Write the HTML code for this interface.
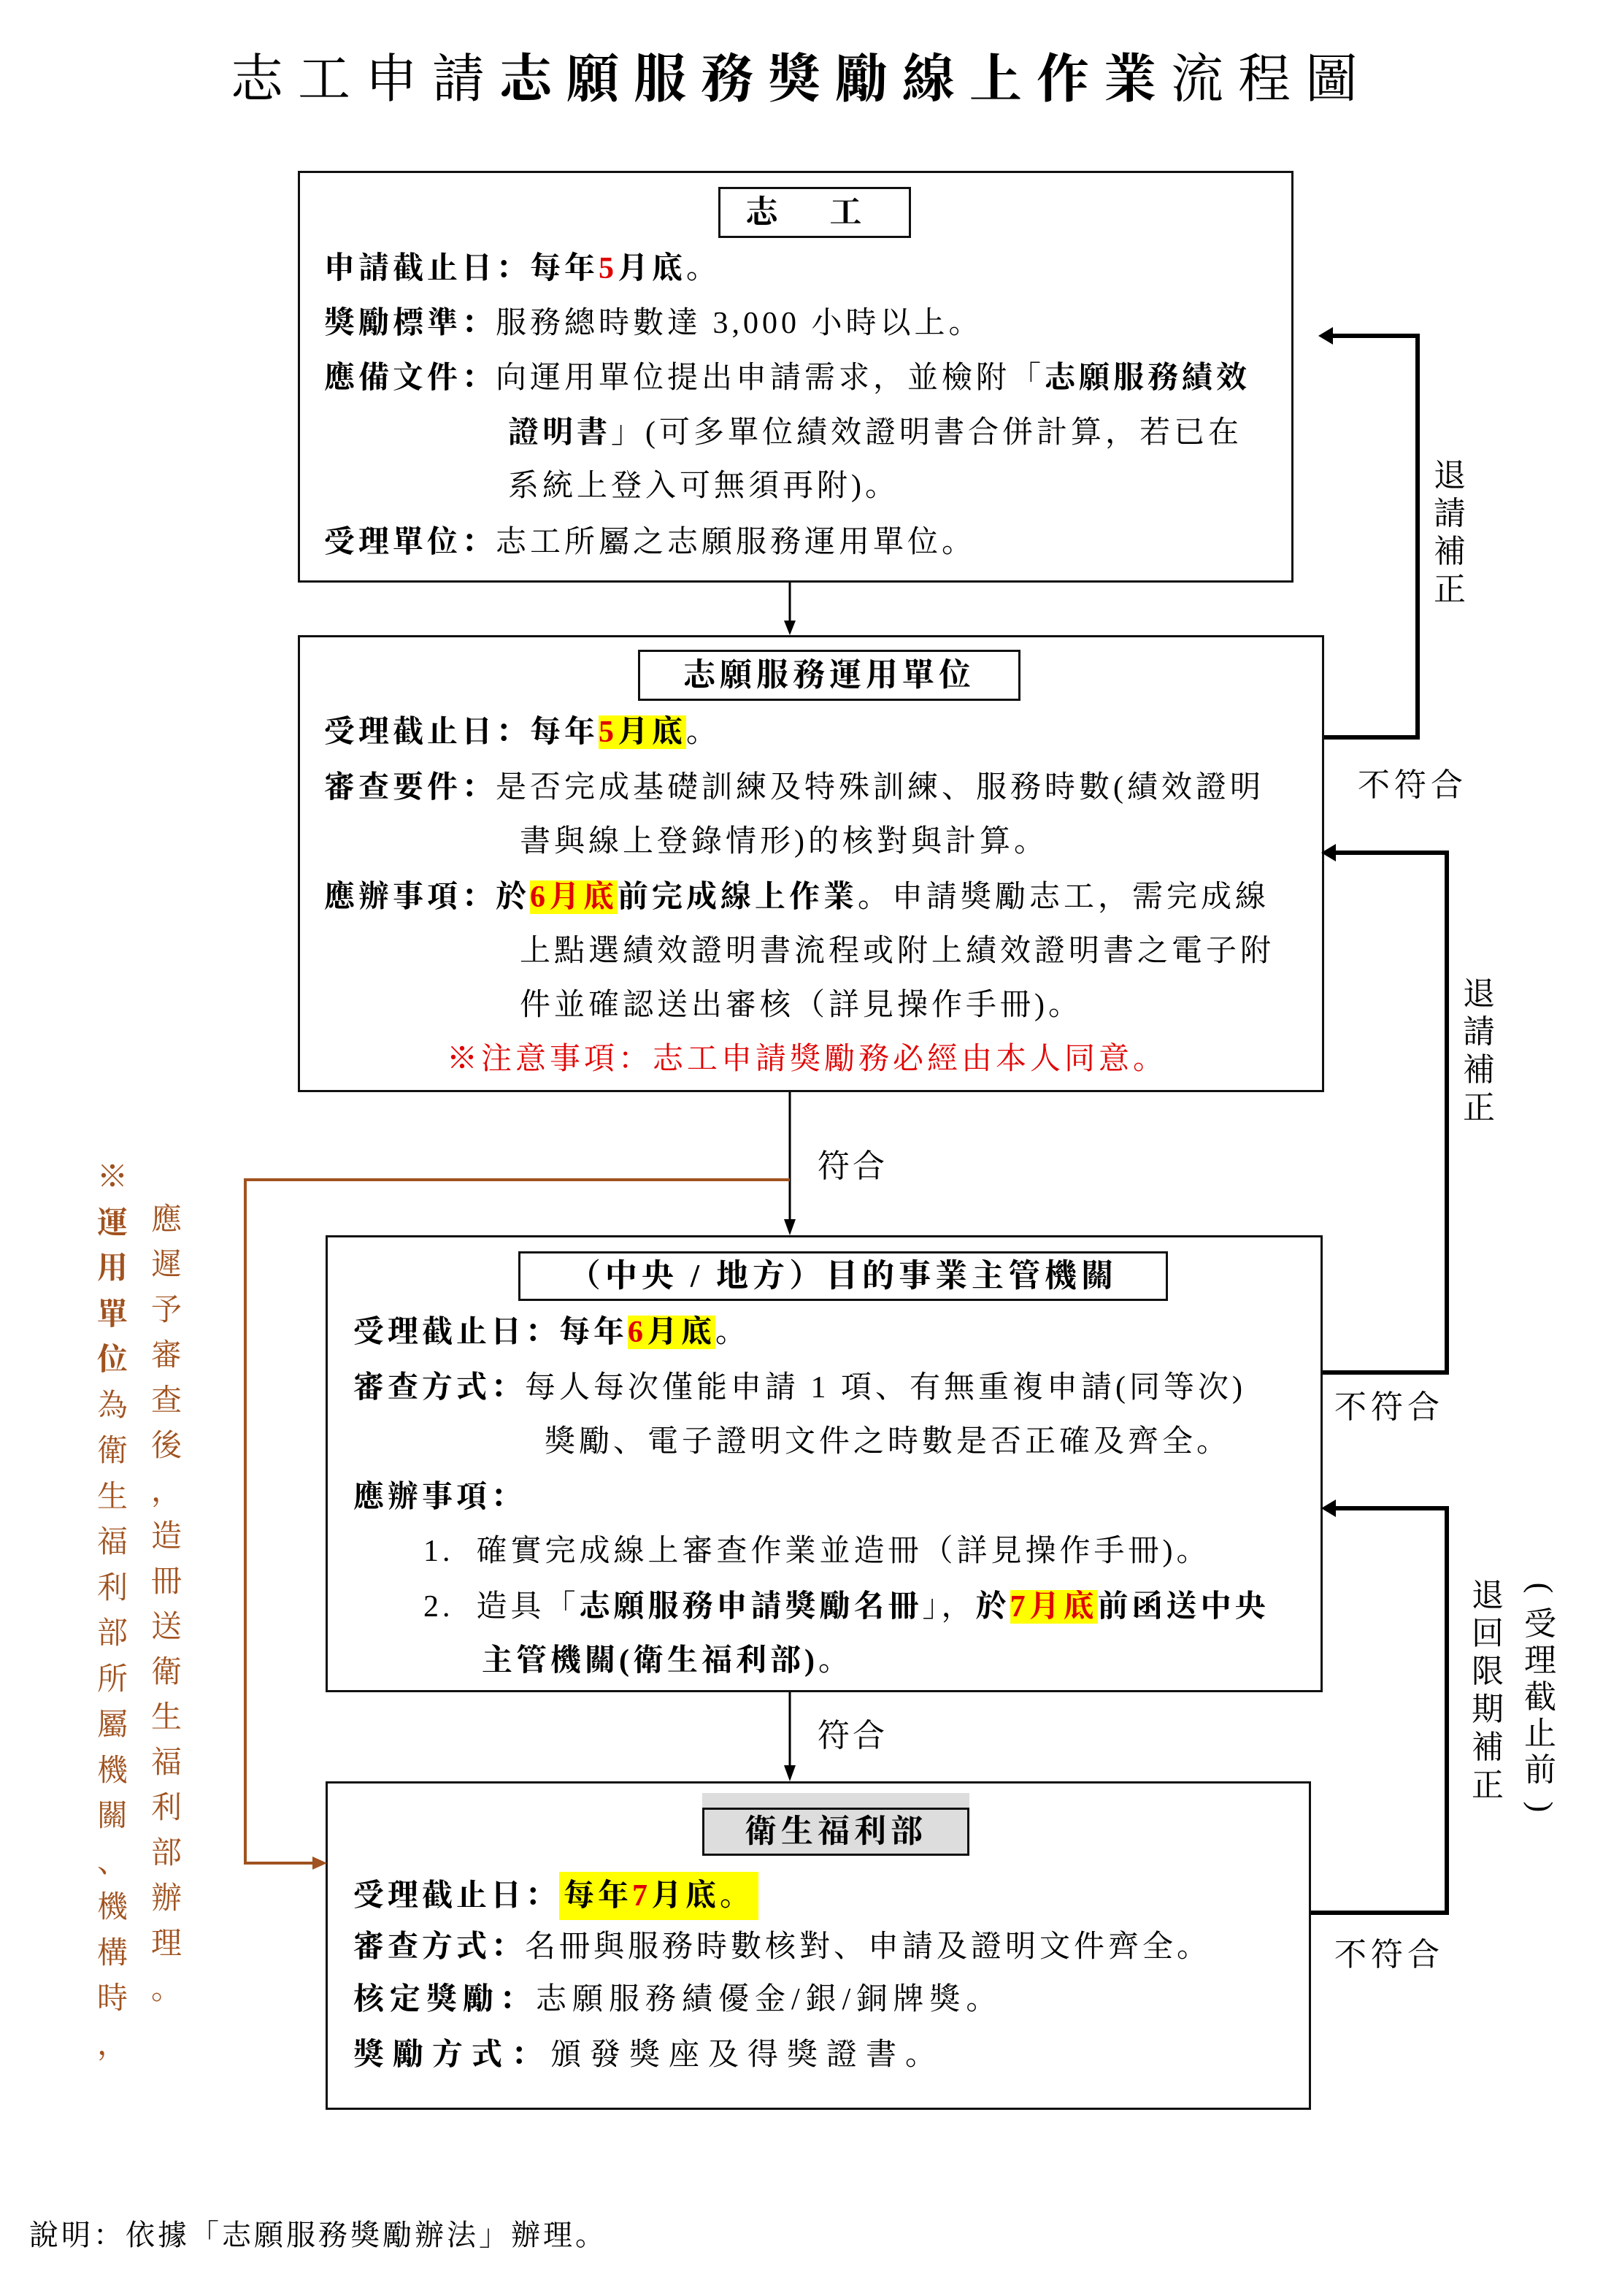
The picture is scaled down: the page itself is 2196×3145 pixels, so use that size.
<!DOCTYPE html>
<html><head><meta charset="utf-8">
<style>
body{margin:0;background:#fff}
#c{position:relative;width:2196px;height:3145px;overflow:hidden;font-family:"Liberation Serif","Noto Serif CJK SC","Noto Sans CJK TC",serif;color:#000}
.a{position:absolute;white-space:nowrap}
.t{position:absolute;white-space:nowrap;font-size:42px;line-height:60px;letter-spacing:5px}
.b{font-weight:bold}
.box{position:absolute;border:3px solid #111;box-sizing:border-box}
.hb{position:absolute;border:3px solid #111;box-sizing:border-box;text-align:center;font-weight:bold;font-size:44px;letter-spacing:6px}
.y{background:#ffff00}
.r{color:#e00000}
.v{position:absolute;width:60px;text-align:center;font-size:44px;line-height:52px}
.br{color:#a0521f}
</style></head><body><div id="c">
<div class="a" style="left:0;width:2196px;text-align:center;top:64px;font-size:72px;line-height:90px;letter-spacing:20px">志工申請<b>志願服務獎勵線上作業</b>流程圖</div>

<!-- Box 1 -->
<div class="box" style="left:408px;top:234px;width:1364px;height:564px"></div>
<div class="hb" style="left:984px;top:256px;width:264px;height:70px;line-height:64px;letter-spacing:30px">志 工</div>
<div class="t" style="left:444px;top:338px"><b>申請截止日：每年<span class="r">5</span>月底。</b></div>
<div class="t" style="left:444px;top:413px"><b>獎勵標準：</b>服務總時數達 3,000 小時以上。</div>
<div class="t" style="left:444px;top:488px"><b>應備文件：</b>向運用單位提出申請需求，並檢附「<b>志願服務績效</b></div>
<div class="t" style="left:696px;top:563px"><b>證明書</b>」(可多單位績效證明書合併計算，若已在</div>
<div class="t" style="left:696px;top:636px">系統上登入可無須再附)。</div>
<div class="t" style="left:444px;top:713px"><b>受理單位：</b>志工所屬之志願服務運用單位。</div>

<!-- Box 2 -->
<div class="box" style="left:408px;top:870px;width:1406px;height:626px"></div>
<div class="hb" style="left:874px;top:890px;width:524px;height:70px;line-height:64px">志願服務運用單位</div>
<div class="t" style="left:444px;top:973px"><b>受理截止日：每年<span class="y"><span class="r">5</span>月底</span>。</b></div>
<div class="t" style="left:444px;top:1049px"><b>審查要件：</b>是否完成基礎訓練及特殊訓練、服務時數(績效證明</div>
<div class="t" style="left:712px;top:1123px">書與線上登錄情形)的核對與計算。</div>
<div class="t" style="left:444px;top:1199px"><b>應辦事項：於<span class="y r">6月底</span>前完成線上作業。</b>申請獎勵志工，需完成線</div>
<div class="t" style="left:712px;top:1273px">上點選績效證明書流程或附上績效證明書之電子附</div>
<div class="t" style="left:712px;top:1347px">件並確認送出審核（詳見操作手冊)。</div>
<div class="t r" style="left:612px;top:1421px">※注意事項：志工申請獎勵務必經由本人同意。</div>

<!-- Box 3 -->
<div class="box" style="left:446px;top:1692px;width:1366px;height:626px"></div>
<div class="hb" style="left:710px;top:1714px;width:890px;height:68px;line-height:62px">（中央 / 地方）目的事業主管機關</div>
<div class="t" style="left:484px;top:1795px"><b>受理截止日：每年<span class="y"><span class="r">6</span>月底</span>。</b></div>
<div class="t" style="left:484px;top:1871px"><b>審查方式：</b>每人每次僅能申請 1 項、有無重複申請(同等次)</div>
<div class="t" style="left:746px;top:1945px">獎勵、電子證明文件之時數是否正確及齊全。</div>
<div class="t" style="left:484px;top:2021px"><b>應辦事項：</b></div>
<div class="t" style="left:580px;top:2095px">1.&nbsp; 確實完成線上審查作業並造冊（詳見操作手冊)。</div>
<div class="t" style="left:580px;top:2171px">2.&nbsp; 造具「<b>志願服務申請獎勵名冊</b>」，<b>於<span class="y r">7月底</span>前函送中央</b></div>
<div class="t b" style="left:660px;top:2245px">主管機關(衛生福利部)。</div>

<!-- Box 4 -->
<div class="box" style="left:446px;top:2440px;width:1350px;height:450px"></div>
<div style="position:absolute;left:962px;top:2456px;width:366px;height:24px;background:#ddd"></div>
<div class="hb" style="left:962px;top:2476px;width:366px;height:66px;line-height:60px;background:#ddd">衛生福利部</div>
<div class="t b" style="left:484px;top:2567px">受理截止日：<span class="y" style="padding:10px 6px">每年<span class="r">7</span>月底。</span></div>
<div class="t" style="left:484px;top:2637px"><b>審查方式：</b>名冊與服務時數核對、申請及證明文件齊全。</div>
<div class="t" style="left:484px;top:2709px;letter-spacing:8px"><b>核定獎勵：</b>志願服務績優金/銀/銅牌獎。</div>
<div class="t" style="left:484px;top:2785px;letter-spacing:12px"><b>獎勵方式：</b>頒發獎座及得獎證書。</div>

<svg class="a" style="left:0;top:0" width="2196" height="3145">
<line x1="1082" y1="798" x2="1082" y2="858" stroke="#000" stroke-width="3"/>
<path d="M1074,850L1082,870L1090,850z" fill="#000"/>
<line x1="1082" y1="1496" x2="1082" y2="1680" stroke="#000" stroke-width="3"/>
<path d="M1074,1670L1082,1692L1090,1670z" fill="#000"/>
<line x1="1082" y1="2318" x2="1082" y2="2428" stroke="#000" stroke-width="3"/>
<path d="M1074,2418L1082,2440L1090,2418z" fill="#000"/>
<polyline points="1814,1010 1942,1010 1942,460 1822,460" fill="none" stroke="#000" stroke-width="6"/>
<path d="M1826,448L1806,460L1826,472z" fill="#000"/>
<polyline points="1812,1880 1982,1880 1982,1168 1826,1168" fill="none" stroke="#000" stroke-width="6"/>
<path d="M1830,1156L1810,1168L1830,1180z" fill="#000"/>
<polyline points="1796,2620 1982,2620 1982,2066 1826,2066" fill="none" stroke="#000" stroke-width="6"/>
<path d="M1830,2054L1810,2066L1830,2078z" fill="#000"/>
<polyline points="1082,1616 336,1616 336,2552 432,2552" fill="none" stroke="#a0521f" stroke-width="4"/>
<path d="M428,2543L448,2552L428,2561z" fill="#a0521f"/>
</svg>

<div class="a" style="left:1120px;top:1572px;font-size:44px;line-height:52px;letter-spacing:4px">符合</div>
<div class="a" style="left:1120px;top:2352px;font-size:44px;line-height:52px;letter-spacing:4px">符合</div>
<div class="a" style="left:1860px;top:1050px;font-size:44px;line-height:52px;letter-spacing:6px">不符合</div>
<div class="a" style="left:1828px;top:1902px;font-size:44px;line-height:52px;letter-spacing:6px">不符合</div>
<div class="a" style="left:1828px;top:2652px;font-size:44px;line-height:52px;letter-spacing:6px">不符合</div>

<div class="v" style="left:1956px;top:626px">退<br>請<br>補<br>正</div>
<div class="v" style="left:1996px;top:1336px">退<br>請<br>補<br>正</div>
<div class="v" style="left:2008px;top:2160px">退<br>回<br>限<br>期<br>補<br>正</div>
<div class="v" style="left:2080px;top:2150px;line-height:50px"><span style="display:inline-block;transform:rotate(90deg)">(</span><br>受<br>理<br>截<br>止<br>前<br><span style="display:inline-block;transform:rotate(90deg)">)</span></div>

<div class="v br" style="left:124px;top:1582px;font-size:42px;line-height:62.5px"><b>※<br>運<br>用<br>單<br>位</b><br>為<br>衛<br>生<br>福<br>利<br>部<br>所<br>屬<br>機<br>關<br>、<br>機<br>構<br>時<br>，</div>
<div class="v br" style="left:198px;top:1640px;font-size:42px;line-height:62px">應<br>遲<br>予<br>審<br>查<br>後<br>，<br>造<br>冊<br>送<br>衛<br>生<br>福<br>利<br>部<br>辦<br>理<br>。</div>

<div class="a" style="left:40px;top:3036px;font-size:40px;line-height:52px;letter-spacing:4px">說明：依據「志願服務獎勵辦法」辦理。</div>
</div></body></html>
